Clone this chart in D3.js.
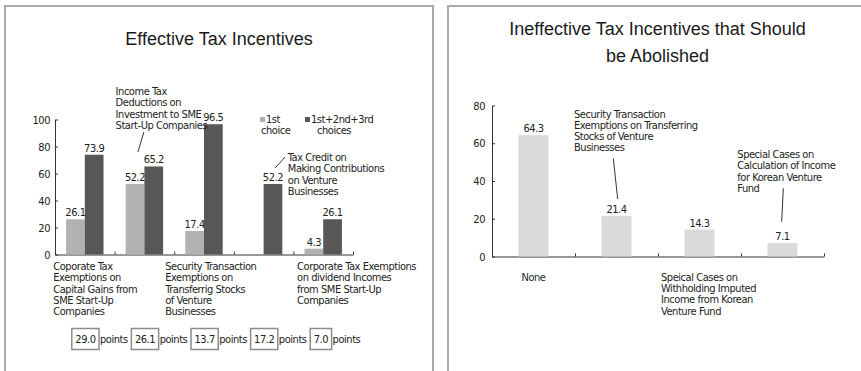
<!DOCTYPE html>
<html>
<head>
<meta charset="utf-8">
<script src="https://cdn.jsdelivr.net/npm/d3@7"></script>
<style>
  body { margin: 0; background: #fff; }
  svg { display: block; font-family: "Liberation Sans", Arial, sans-serif; }
  .lbl, .axis text { font-family: "DejaVu Sans Condensed", "DejaVu Sans", sans-serif; font-stretch: condensed;
    font-size: 11px; letter-spacing: -0.45px; fill: #222; }
  .title { font-size: 18px; fill: #1a1a1a; }
</style>
</head>
<body>
<svg id="chart" width="861" height="371"></svg>
<script>
// ---- Effective tax incentives (left panel) ----
const effectiveCategories = [
  ["Coporate Tax", "Exemptions on", "Capital Gains from", "SME Start-Up", "Companies"],
  ["Income Tax", "Deductions on", "Investment to SME", "Start-Up Companies"],
  ["Security Transaction", "Exemptions on", "Transferrig Stocks", "of Venture", "Businesses"],
  ["Tax Credit on", "Making Contributions", "on Venture", "Businesses"],
  ["Corporate Tax Exemptions", "on dividend Incomes", "from SME Start-Up", "Companies"]
];
const firstChoice = [26.1, 52.2, 17.4, null, 4.3];
const topThreeChoices = [73.9, 65.2, 96.5, 52.2, 26.1];
const pointScores = ["29.0", "26.1", "13.7", "17.2", "7.0"];
const effectiveTicks = [0, 20, 40, 60, 80, 100];
const seriesNames = [["1st", "choice"], ["1st+2nd+3rd", "choices"]];

// ---- Ineffective tax incentives (right panel) ----
const ineffectiveCategories = [
  ["None"],
  ["Security Transaction", "Exemptions on Transferring", "Stocks of Venture", "Businesses"],
  ["Speical Cases on", "Withholding Imputed", "Income from Korean", "Venture Fund"],
  ["Special Cases on", "Calculation of Income", "for Korean Venture", "Fund"]
];
const ineffectiveValues = [64.3, 21.4, 14.3, 7.1];
const ineffectiveTicks = [0, 20, 40, 60, 80];

const LIGHT = "#b2b2b2", DARK = "#575757", PALE = "#dadada", AXIS = "#333";
const LINE_H = 11.3;

const svg = d3.select("#chart");

// panel frames
svg.append("rect").attr("x", 5).attr("y", 6).attr("width", 428).attr("height", 380)
  .attr("fill", "none").attr("stroke", "#aaa").attr("stroke-width", 2);
svg.append("rect").attr("x", 448).attr("y", 6).attr("width", 425).attr("height", 380)
  .attr("fill", "none").attr("stroke", "#aaa").attr("stroke-width", 2);

// one <text> per block, one <tspan> per line; xs may give a per-line x
function multiline(g, lines, x, y, anchor, xs) {
  const t = g.append("text").attr("class", "lbl").attr("x", x).attr("y", y)
    .attr("text-anchor", anchor || "start");
  lines.forEach((s, i) => t.append("tspan").attr("x", xs ? xs[i] : x).attr("y", y + i * LINE_H).text(s));
  return t;
}

// ================= left panel =================
const L = svg.append("g");
L.append("text").attr("class", "title").attr("x", 219).attr("y", 45)
  .attr("text-anchor", "middle").text("Effective Tax Incentives");

const x1 = d3.scaleBand().domain(d3.range(effectiveCategories.length)).range([55, 353]).padding(0);
const y1 = d3.scaleLinear().domain([0, 100]).range([254.5, 119.5]);
const bw1 = x1.bandwidth() * 0.314;
const cx1 = i => x1(i) + x1.bandwidth() / 2;

// axes
const yAx1 = L.append("g").attr("class", "axis").attr("transform", "translate(55,0)")
  .call(d3.axisLeft(y1).tickValues(effectiveTicks).tickSizeInner(-3).tickSizeOuter(0).tickPadding(5));
const edges1 = d3.scaleLinear().domain([0, effectiveCategories.length]).range([55, 353]);
const xAx1 = L.append("g").attr("class", "axis").attr("transform", "translate(0,254.5)")
  .call(d3.axisBottom(edges1).tickValues(d3.range(effectiveCategories.length + 1))
    .tickSizeInner(-3).tickSizeOuter(0).tickFormat(() => ""));
[yAx1, xAx1].forEach(a => a.attr("color", AXIS).attr("font-family", null).attr("font-size", null));

// bars
const seriesL = [
  { vals: firstChoice, color: LIGHT, off: -bw1 },
  { vals: topThreeChoices, color: DARK, off: 0 }
];
seriesL.forEach(s => {
  const d = s.vals.map((v, i) => ({ v, i })).filter(o => o.v != null);
  L.selectAll(null).data(d).join("rect")
    .attr("x", o => cx1(o.i) + s.off).attr("width", bw1)
    .attr("y", o => y1(o.v)).attr("height", o => y1(0) - y1(o.v))
    .attr("fill", s.color);
  L.selectAll(null).data(d).join("text").attr("class", "lbl")
    .attr("x", o => cx1(o.i) + s.off + bw1 / 2).attr("y", o => y1(o.v) - 3)
    .attr("text-anchor", "middle").text(o => o.v.toFixed(1));
});

// legend
[[260, 266, 261], [305, 311, 317]].forEach((p, k) => {
  L.append("rect").attr("x", p[0]).attr("y", 117).attr("width", 5).attr("height", 5)
    .attr("fill", k === 0 ? LIGHT : DARK);
  multiline(L, seriesNames[k], p[1], 122.5, "start", [p[1], p[2]]);
});

// category labels: below the axis for 0,2,4 and callouts for 1,3
multiline(L, effectiveCategories[0], x1(0) - 1.7, 270);
multiline(L, effectiveCategories[2], x1(2) - 9, 270);
multiline(L, effectiveCategories[4], x1(4) + 3.7, 270);
multiline(L, effectiveCategories[1], x1(1) + 1, 95);
multiline(L, effectiveCategories[3], x1(3) + 54, 161);
L.append("line").attr("x1", cx1(1) - 0.5).attr("y1", 132).attr("x2", cx1(1) - 6.5).attr("y2", 152)
  .attr("stroke", "#333").attr("stroke-width", 1);
L.append("line").attr("x1", cx1(3) + 21.5).attr("y1", 157).attr("x2", cx1(3) + 11.5).attr("y2", 168)
  .attr("stroke", "#333").attr("stroke-width", 1);

// point scores in boxes
pointScores.forEach((p, i) => {
  const g = L.append("g");
  const left = cx1(i) - 13;
  const num = g.append("text").attr("class", "lbl").attr("x", left + 3.5).attr("y", 342.5).text(p);
  const w = num.node().getComputedTextLength() + 7;
  g.append("rect").attr("x", left).attr("y", 328.5).attr("width", w).attr("height", 21)
    .attr("fill", "none").attr("stroke", "#8c8c8c").attr("stroke-width", 1.5);
  g.append("text").attr("class", "lbl").attr("x", left + w + 1).attr("y", 342.5).text("points");
});

// ================= right panel =================
const R = svg.append("g");
R.append("text").attr("class", "title").attr("x", 657.5).attr("y", 35)
  .attr("text-anchor", "middle").text("Ineffective Tax Incentives that Should");
R.append("text").attr("class", "title").attr("x", 657.5).attr("y", 62)
  .attr("text-anchor", "middle").text("be Abolished");

const x2 = d3.scaleBand().domain(d3.range(ineffectiveCategories.length)).range([492, 824]).padding(0);
const y2 = d3.scaleLinear().domain([0, 80]).range([256.5, 105.5]);
const bw2 = 30;
const cx2 = i => x2(i) + x2.bandwidth() / 2;

const yAx2 = R.append("g").attr("class", "axis").attr("transform", "translate(492,0)")
  .call(d3.axisLeft(y2).tickValues(ineffectiveTicks).tickSizeInner(-3).tickSizeOuter(0).tickPadding(7));
const edges2 = d3.scaleLinear().domain([0, ineffectiveCategories.length]).range([492, 824]);
const xAx2 = R.append("g").attr("class", "axis").attr("transform", "translate(0,256.5)")
  .call(d3.axisBottom(edges2).tickValues(d3.range(ineffectiveCategories.length + 1))
    .tickSizeInner(-3).tickSizeOuter(0).tickFormat(() => ""));
[yAx2, xAx2].forEach(a => a.attr("color", AXIS).attr("font-family", null).attr("font-size", null));

R.selectAll(null).data(ineffectiveValues).join("rect")
  .attr("x", (v, i) => cx2(i) - bw2 / 2).attr("width", bw2)
  .attr("y", v => y2(v)).attr("height", v => y2(0) - y2(v))
  .attr("fill", PALE);
R.selectAll(null).data(ineffectiveValues).join("text").attr("class", "lbl")
  .attr("x", (v, i) => cx2(i)).attr("y", v => y2(v) - 3)
  .attr("text-anchor", "middle").text(v => v.toFixed(1));

multiline(R, ineffectiveCategories[0], cx2(0), 280.7, "middle");
multiline(R, ineffectiveCategories[2], x2(2) + 3, 280.7);
multiline(R, ineffectiveCategories[1], x2(1) - 1, 117.5);
multiline(R, ineffectiveCategories[3], x2(3) - 3.7, 158);
R.append("line").attr("x1", cx2(1) - 3.2).attr("y1", 158.3).attr("x2", cx2(1) + 1.2).attr("y2", 199)
  .attr("stroke", "#333").attr("stroke-width", 1);
R.append("line").attr("x1", cx2(3) + 0.8).attr("y1", 188.3).attr("x2", cx2(3) - 0.8).attr("y2", 221.7)
  .attr("stroke", "#333").attr("stroke-width", 1);
</script>
</body>
</html>
